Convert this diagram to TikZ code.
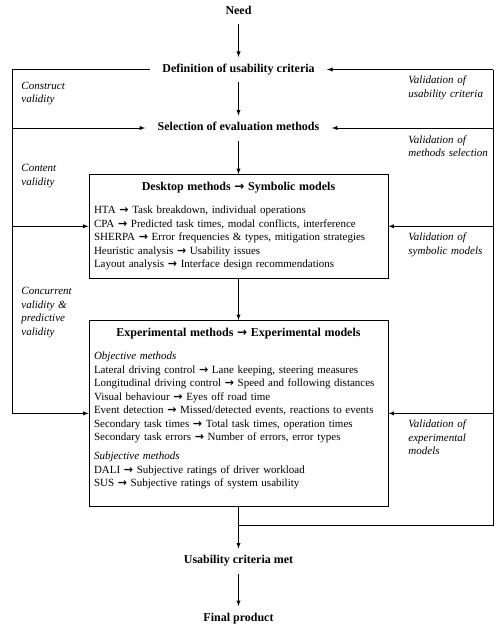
\documentclass[tikz,border=0pt]{standalone}
\usepackage{fontspec}
\setmainfont{Liberation Serif}
\newfontfamily\arrowfont{DejaVu Sans}
\newcommand{\goesto}{{\arrowfont\bfseries →}}
\usetikzlibrary{arrows}

\begin{document}
\begin{tikzpicture}[x=1pt, y=-1pt, line width=0.9pt,
	stage/.style={font=\fontsize{12}{14}\selectfont\bfseries, text height=8.5pt, text depth=2.6pt, inner xsep=12pt, inner ysep=6.5pt},
	valid/.style={font=\fontsize{11}{13.5}\selectfont\itshape, anchor=base west, align=left, text width=90pt, inner sep=0pt},
	modelbox/.style={draw, anchor=north, font=\fontsize{11}{13.5}\selectfont, align=left, text width=289pt, inner xsep=5pt, inner ysep=8pt}]
	\useasboundingbox (0,0) rectangle (500,626);

	\draw (238.5, 11.5) node[stage] (need) {Need};
	\draw (238.5, 69.5) node[stage] (def) {Definition of usability criteria};
	\draw (238.5, 128) node[stage] (sel) {Selection of evaluation methods};
	\draw (238.5, 174) node[modelbox] (desk) {%
		{\centering\fontsize{12}{14}\selectfont\bfseries Desktop methods \goesto{} Symbolic models\par}
		\vspace{9.5pt}
		HTA \goesto{} Task breakdown, individual operations\\
		CPA \goesto{} Predicted task times, modal conflicts, interference\\
		SHERPA \goesto{} Error frequencies \& types, mitigation strategies\\
		Heuristic analysis \goesto{} Usability issues\\
		Layout analysis \goesto{} Interface design recommendations};
	\draw (238.5, 320) node[modelbox] (exp) {%
		{\centering\fontsize{12}{14}\selectfont\bfseries Experimental methods \goesto{} Experimental models\par}
		\vspace{9.5pt}
		\textit{Objective methods}\\
		Lateral driving control \goesto{} Lane keeping, steering measures\\
		Longitudinal driving control \goesto{} Speed and following distances\\
		Visual behaviour \goesto{} Eyes off road time\\
		Event detection \goesto{} Missed/detected events, reactions to events\\
		Secondary task times \goesto{} Total task times, operation times\\
		Secondary task errors \goesto{} Number of errors, error types\\[5.5pt]
		\textit{Subjective methods}\\
		DALI \goesto{} Subjective ratings of driver workload\\
		SUS \goesto{} Subjective ratings of system usability\\[-2pt]
		\mbox{}};
	\draw (238.5, 561) node[stage] (met) {Usability criteria met};
	\draw (238.5, 618.5) node[stage] (final) {Final product};

	% validity labels
	\draw (21, 89) node[valid] (construct) {Construct\\validity};
	\draw (21, 171.5) node[valid] (content) {Content\\validity};
	\draw (21, 294.5) node[valid] (concurrent) {Concurrent\\validity \&\\predictive\\validity};
	\draw (408, 83.5) node[valid] (vcrit) {Validation of\\usability criteria};
	\draw (408, 143) node[valid] (vsel) {Validation of\\methods selection};
	\draw (408, 240.5) node[valid] (vsym) {Validation of\\symbolic models};
	\draw (408, 427.5) node[valid] (vexp) {Validation of\\experimental\\models};

	\coordinate (lt) at (12, 69.5);
	\coordinate (rt) at (493, 69.5);
	\coordinate (joint) at (238.5, 525);

	\draw[-latex] (need.south) -- (def.north);
	\draw[-latex] (def.south) -- (sel.north);
	\draw[-latex] (sel.south) -- (desk.north);
	\draw[-latex] (desk.south) -- (exp.north);
	\draw[-latex] (exp.south) -- (met.north);
	\draw[-latex] (met.south) -- (final.north);

	\draw[-latex] (def.west) -- (lt) |- (exp.west);
	\foreach \target in {sel,desk}{
		\draw[-latex] (lt |- \target) -- (\target.west);
	}
	\draw (rt) |- (joint);
	\foreach \target in {def,sel,desk,exp}{
		\draw[-latex] (rt |- \target) -- (\target.east);
	}

\end{tikzpicture}
\end{document}
